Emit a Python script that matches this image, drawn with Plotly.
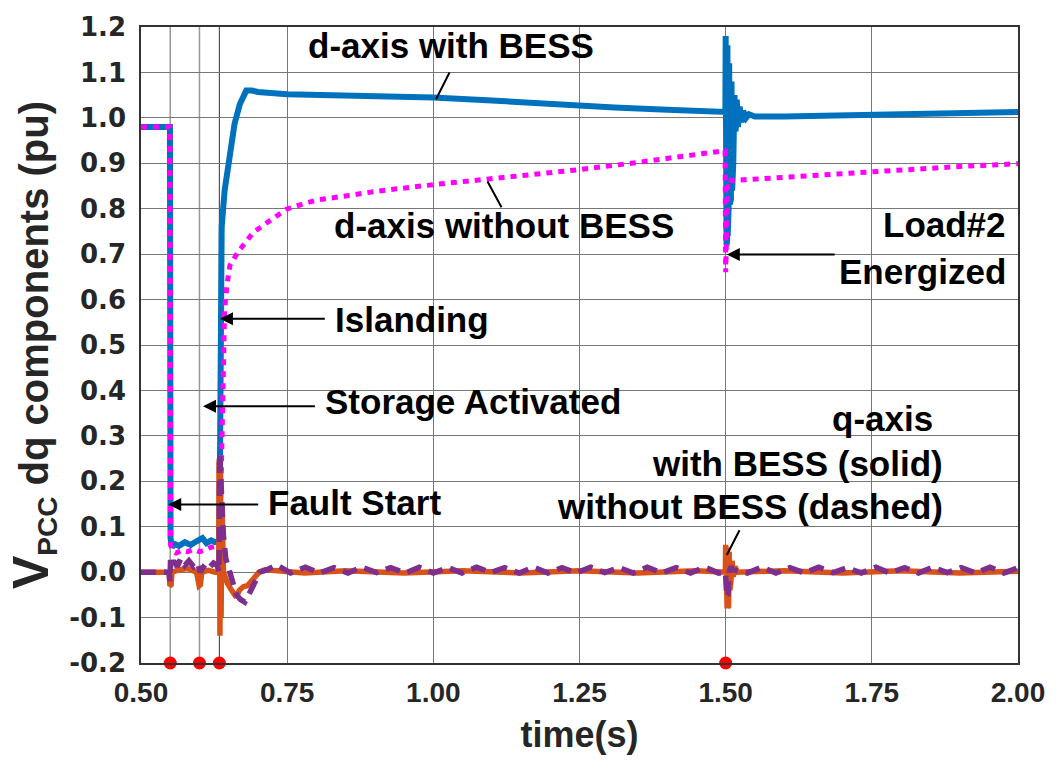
import plotly.graph_objects as go

# ---- d-axis PCC voltage, with BESS (pu) ----
t_vd_bess = [0.500, 0.5495, 0.5505, 0.553, 0.557, 0.565, 0.575, 0.585, 0.595, 0.600, 0.605,
             0.612, 0.620, 0.627, 0.634, 0.636, 0.638, 0.643, 0.649, 0.655, 0.660, 0.669,
             0.676, 0.680, 0.690, 0.700, 0.750, 0.850, 1.000, 1.100, 1.200, 1.310, 1.400,
             1.4995, 1.5000, 1.5005, 1.5010, 1.5015, 1.5020, 1.5025, 1.5030, 1.5035, 1.5040,
             1.5050, 1.5060, 1.5070, 1.5080, 1.5090, 1.5100, 1.5110, 1.5120, 1.5130, 1.5150,
             1.5170, 1.5190, 1.5210, 1.5240, 1.5270, 1.5300, 1.5350, 1.5400, 1.5500, 1.6000,
             1.7000, 1.8000, 1.9000, 2.0000]
vd_bess = [0.980, 0.980, 0.075, 0.055, 0.062, 0.058, 0.066, 0.060, 0.068, 0.072, 0.075,
           0.064, 0.070, 0.066, 0.068, 0.400, 0.760, 0.840, 0.893, 0.965, 0.987, 1.030,
           1.055, 1.060, 1.060, 1.057, 1.052, 1.049, 1.045, 1.038, 1.030, 1.023, 1.018,
           1.013, 1.180, 0.720, 1.180, 0.720, 1.170, 0.730, 1.160, 0.740, 1.140,
           0.800, 1.120, 0.810, 1.100, 0.820, 1.080, 0.840, 1.060, 0.900, 1.050,
           0.970, 1.040, 0.980, 1.025, 0.990, 1.015, 1.000, 1.008, 1.003, 1.003,
           1.006, 1.010, 1.012, 1.013]

# ---- d-axis PCC voltage, without BESS (pu) ----
t_vd_nobess = [0.500, 0.5495, 0.5505, 0.555, 0.560, 0.570, 0.580, 0.590, 0.600, 0.610, 0.620,
               0.630, 0.634, 0.6355, 0.638, 0.6405, 0.643, 0.647, 0.652, 0.666, 0.692, 0.732,
               0.749, 0.783, 0.805, 0.850, 0.900, 1.000, 1.100, 1.250, 1.350, 1.420, 1.499,
               1.5000, 1.5008, 1.5020, 1.5040, 1.5100, 1.5450, 1.6000, 1.7500, 1.9000, 2.0000]
vd_nobess = [0.980, 0.980, 0.060, 0.045, 0.042, 0.048, 0.045, 0.050, 0.045, 0.048, 0.055,
             0.058, 0.058, 0.100, 0.300, 0.500, 0.580, 0.632, 0.675, 0.705, 0.748, 0.784,
             0.799, 0.813, 0.820, 0.828, 0.838, 0.853, 0.866, 0.886, 0.902, 0.915, 0.928,
             0.660, 0.700, 0.800, 0.865, 0.862, 0.865, 0.868, 0.882, 0.893, 0.899]

# ---- q-axis PCC voltage, with BESS (pu) ----
t_vq_bess = [0.500, 0.548, 0.5495, 0.5515, 0.553, 0.565, 0.580, 0.595, 0.5995, 0.6015, 0.604,
             0.615, 0.627, 0.6330, 0.6335, 0.6340, 0.6345, 0.6350, 0.6360, 0.6370, 0.6385,
             0.6410, 0.648, 0.655, 0.663, 0.668, 0.675, 0.682, 0.692, 0.702, 0.712, 0.780,
             0.850, 0.950, 1.050, 1.150, 1.250, 1.350, 1.450, 1.4995, 1.5000, 1.5005, 1.5010,
             1.5015, 1.5020, 1.5025, 1.5030, 1.5035, 1.5040, 1.5050, 1.5060, 1.5070, 1.5080,
             1.5090, 1.5110, 1.5130, 1.5160, 1.5200, 1.600, 1.700, 1.800, 1.900, 2.000]
vq_bess = [0.000, 0.000, -0.030, -0.028, 0.000, 0.005, 0.008, 0.000, -0.030, -0.028, 0.000,
           0.004, 0.000, 0.000, 0.240, -0.140, 0.250, -0.140, 0.220, -0.100, 0.150,
           0.000, -0.025, -0.040, -0.055, -0.040, -0.032, -0.030, -0.015, 0.000, 0.005, -0.002,
           0.003, -0.002, 0.003, -0.002, 0.003, -0.002, 0.003, 0.000, 0.060, -0.080, 0.060,
           -0.080, 0.058, -0.080, 0.055, -0.078, 0.050, -0.075, 0.045, -0.040, 0.030,
           -0.020, 0.025, -0.010, 0.012, 0.000, 0.003, -0.002, 0.003, -0.002, 0.002]

# ---- q-axis PCC voltage, without BESS (pu) ----
t_vq_nobess = [0.500, 0.548, 0.5495, 0.5505, 0.552, 0.556, 0.562, 0.568, 0.575, 0.582, 0.590,
               0.597, 0.601, 0.606, 0.612, 0.618, 0.624, 0.630, 0.6335, 0.6345, 0.637, 0.641,
               0.645, 0.652, 0.663, 0.670, 0.6775, 0.690, 0.703, 0.715,
               0.732, 0.756, 0.781, 0.805, 0.830, 0.854, 0.878, 0.903, 0.927, 0.952, 0.976,
               1.000, 1.025, 1.049, 1.074, 1.098, 1.122, 1.147, 1.171, 1.196, 1.220, 1.244,
               1.269, 1.293, 1.318, 1.342, 1.366, 1.391, 1.415, 1.440, 1.464, 1.488,
               1.4995, 1.5005, 1.502, 1.504, 1.506, 1.509, 1.513,
               1.537, 1.562, 1.586, 1.610, 1.635, 1.659, 1.684, 1.708, 1.732, 1.757, 1.781,
               1.806, 1.830, 1.854, 1.879, 1.903, 1.928, 1.952, 1.976, 2.000]
vq_nobess = [0.000, 0.000, -0.020, 0.027, 0.015, 0.025, 0.012, 0.030, 0.015, 0.025, 0.012,
             0.020, 0.000, 0.010, 0.020, 0.012, 0.020, 0.015, 0.000, 0.262, 0.180, 0.080,
             0.030, -0.003, -0.049, -0.060, -0.066, -0.035, 0.000, 0.005,
             0.016, -0.002, 0.011, -0.002, 0.010, -0.002, 0.011, -0.001, 0.010, -0.002, 0.011,
             -0.002, 0.010, -0.002, 0.011, -0.001, 0.010, -0.002, 0.011, -0.002, 0.010, -0.002,
             0.011, -0.001, 0.010, -0.002, 0.011, -0.002, 0.010, -0.002, 0.011, -0.002,
             0.000, -0.020, -0.055, -0.050, 0.000, 0.012, 0.005,
             -0.002, 0.011, -0.002, 0.010, -0.002, 0.011, -0.001, 0.010, -0.002, 0.011, -0.002,
             0.010, -0.002, 0.011, -0.001, 0.010, -0.002, 0.011, -0.002, 0.010]

# ---- event instants: fault, storage activation, islanding, load #2 ----
event_times = [0.55, 0.60, 0.634, 1.50]
event_level = [-0.2, -0.2, -0.2, -0.2]

x_ticks = [0.50, 0.75, 1.00, 1.25, 1.50, 1.75, 2.00]
x_tick_text = ["0.50", "0.75", "1.00", "1.25", "1.50", "1.75", "2.00"]
y_ticks = [-0.2, -0.1, 0.0, 0.1, 0.2, 0.3, 0.4, 0.5, 0.6, 0.7, 0.8, 0.9, 1.0, 1.1, 1.2]
y_tick_text = ["-0.2", "-0.1", "0.0", "0.1", "0.2", "0.3", "0.4", "0.5", "0.6", "0.7",
               "0.8", "0.9", "1.0", "1.1", "1.2"]

BOLD = "Liberation Sans, Arial, sans-serif"

fig = go.Figure()

# event marker lines (drawn below the traces)
for t in event_times[:2]:
    fig.add_vline(x=t, line=dict(color="#9a9a9a", width=1.5), layer="below")
fig.add_vline(x=event_times[2], line=dict(color="#333333", width=1), layer="below")

fig.add_trace(go.Scatter(x=t_vd_bess, y=vd_bess, mode="lines",
                         line=dict(color="#0072BD", width=6), name="d with BESS"))
fig.add_trace(go.Scatter(x=t_vd_nobess, y=vd_nobess, mode="lines",
                         line=dict(color="#FF00FF", width=5, dash="6px,6px"), name="d without BESS"))
fig.add_trace(go.Scatter(x=t_vq_bess, y=vq_bess, mode="lines",
                         line=dict(color="#D95319", width=5.5), name="q with BESS"))
fig.add_trace(go.Scatter(x=t_vq_nobess, y=vq_nobess, mode="lines",
                         line=dict(color="#7E2F8E", width=5.5, dash="15px,8px"), name="q without BESS"))
fig.add_trace(go.Scatter(x=event_times, y=event_level, mode="markers",
                         marker=dict(color="#FF0000", size=13), cliponaxis=False, name="events"))

ann_font = dict(family=BOLD, size=35, color="black")


def label(text, x, y, xanchor="center"):
    fig.add_annotation(x=x, y=y, text="<b>%s</b>" % text, showarrow=False,
                       xanchor=xanchor, yanchor="middle", font=ann_font)


def pointer(x, y, ax, ay, head=2):
    fig.add_annotation(x=x, y=y, ax=ax, ay=ay, axref="x", ayref="y", text="",
                       showarrow=True, arrowhead=head, arrowsize=1.3, arrowwidth=2,
                       arrowcolor="black")


label("d-axis with BESS", 1.031, 1.160)
pointer(1.0046, 1.041, 1.029, 1.103, head=0)
label("d-axis without BESS", 1.121, 0.764)
pointer(1.0927, 0.860, 1.118, 0.800, head=0)
label("Load#2", 1.983, 0.766, "right")
label("Energized", 1.983, 0.661, "right")
pointer(1.502, 0.699, 1.689, 0.699)
label("Islanding", 0.8276, 0.556, "left")
pointer(0.635, 0.558, 0.817, 0.558)
label("Storage Activated", 0.811, 0.376, "left")
pointer(0.606, 0.365, 0.800, 0.365)
label("Fault Start", 0.7145, 0.153, "left")
pointer(0.5466, 0.149, 0.703, 0.149)
label("q-axis", 1.858, 0.338, "right")
label("with BESS (solid)", 1.875, 0.240, "right")
label("without BESS (dashed)", 1.875, 0.144, "right")
pointer(1.502, 0.0378, 1.525, 0.0957, head=0)

fig.update_layout(
    width=1057, height=770,
    margin=dict(l=141, r=37, t=19, b=107),
    paper_bgcolor="white", plot_bgcolor="white",
    showlegend=False,
    xaxis=dict(range=[0.5, 2.0], tickvals=x_ticks, ticktext=x_tick_text,
               showgrid=True, gridcolor="#777777", gridwidth=1.2,
               showline=True, linecolor="#333333", linewidth=1.5, mirror=True,
               zeroline=False, ticks="", ticklabelstandoff=4,
               tickfont=dict(family=BOLD, size=28, color="#262626", weight="bold"),
               title=dict(text="<b>time(s)</b>", standoff=14,
                          font=dict(family=BOLD, size=36, color="#262626"))),
    yaxis=dict(range=[-0.2, 1.2], tickvals=y_ticks, ticktext=y_tick_text,
               showgrid=True, gridcolor="#777777", gridwidth=1.2,
               showline=True, linecolor="#333333", linewidth=1.5, mirror=True,
               zeroline=False, ticks="", ticklabelstandoff=8,
               tickfont=dict(family="DejaVu Sans", size=26, color="#262626", weight="bold"),
               title=dict(text="<b><span style='font-size:50px'>V</span><sub>PCC</sub> dq components (pu)</b>",
                          standoff=8,
                          font=dict(family=BOLD, size=40, color="#262626"))),
)

fig.write_html("out.html")
